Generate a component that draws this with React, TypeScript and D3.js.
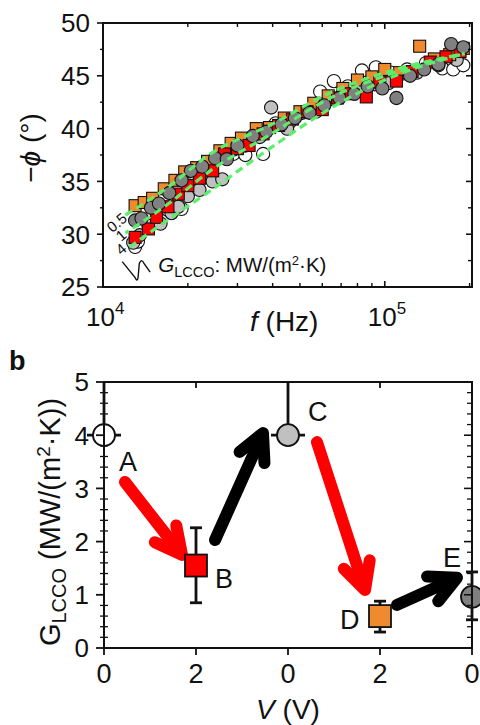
import React from "react";
import * as d3 from "d3";

// ---------- Panel a data ----------
const freqOrange = [1.3e4,1.4e4,1.5e4,1.65e4,1.8e4,1.95e4,2.15e4,2.35e4,2.6e4,2.85e4,3.1e4,3.5e4,3.9e4,4.4e4,5.0e4,5.6e4,6.3e4,7.1e4,8.0e4,9.0e4,1.0e5,1.13e5,1.33e5,1.5e5,1.7e5,1.9e5];
const phiOrange = [32.7,33.0,33.4,34.3,35.1,35.9,36.3,36.9,37.9,38.6,39.1,40.0,40.1,41.0,41.6,42.4,43.1,43.8,44.6,44.9,45.6,45.3,47.8,46.6,47.0,47.6];

const freqRed = [1.3e4,1.45e4,1.55e4,1.7e4,1.85e4,2.0e4,2.2e4,2.45e4,2.7e4,3.0e4,3.3e4,3.7e4,4.2e4,4.7e4,5.3e4,6.0e4,6.8e4,7.6e4,8.6e4,9.6e4,1.1e5,1.25e5,1.45e5,1.65e5,1.85e5];
const phiRed = [29.7,30.5,31.6,32.6,33.8,34.6,35.3,36.0,37.6,38.1,38.4,39.5,40.3,40.9,41.6,41.8,42.9,43.3,43.0,44.4,44.5,45.4,46.3,46.8,47.3];

const freqWhite = [1.3e4,1.33e4,1.5e4,1.7e4,1.9e4,2.1e4,2.35e4,2.6e4,2.9e4,3.2e4,3.7e4,4.1e4,4.6e4,5.2e4,5.9e4,6.6e4,7.4e4,8.3e4,9.3e4,1.05e5,1.2e5,1.4e5,1.6e5,1.75e5,1.9e5];
const phiWhite = [28.8,29.3,31.0,32.3,32.4,34.6,35.9,37.3,37.6,37.5,37.6,40.5,40.6,41.6,43.5,44.5,44.0,45.5,45.8,45.3,45.6,46.2,45.7,45.6,46.0];

const freqLight = [1.28e4,1.35e4,1.45e4,1.6e4,1.75e4,1.85e4,2.0e4,2.2e4,2.45e4,2.65e4,2.9e4,3.2e4,3.6e4,3.95e4,4.5e4,5.1e4,5.7e4,6.5e4,7.2e4,8.2e4,9.2e4,1.03e5,1.15e5,1.3e5,1.55e5,1.8e5];
const phiLight = [29.2,29.9,30.8,31.0,32.0,32.6,33.6,34.2,35.0,35.2,38.0,38.4,39.2,42.0,40.0,41.5,41.6,42.8,43.3,43.6,44.2,44.3,45.2,45.3,46.0,46.5];

const freqDark = [1.3e4,1.37e4,1.48e4,1.58e4,1.72e4,1.9e4,2.05e4,2.25e4,2.5e4,2.75e4,3.0e4,3.4e4,3.8e4,4.3e4,4.8e4,5.4e4,6.1e4,6.9e4,7.8e4,8.7e4,9.8e4,1.1e5,1.23e5,1.38e5,1.55e5,1.72e5,1.9e5];
const phiDark = [31.3,31.5,32.5,32.9,33.9,35.1,36.0,36.4,37.2,37.1,38.4,39.3,39.7,40.4,41.0,41.5,42.2,42.9,43.3,44.0,43.8,42.9,45.0,45.6,46.1,48.0,47.7];

// fitted curves for G = 0.5, 1, 4 MW/(m2 K)
const fitFreq = [1.2e4,1.73e4,2.4e4,3.9e4,6.4e4,1.0e5,1.92e5];
const fit05 = [31.8,34.6,37.6,40.3,43.4,45.3,47.1];
const fit1 = [30.1,33.0,36.0,39.4,42.9,45.0,47.1];
const fit4 = [28.5,31.5,34.1,38.1,41.9,44.6,47.1];
const fitLabels = ["0.5","1","4"];

const yTicksTop = [25,30,35,40,45,50];

// ---------- Panel b data ----------
const stageNames = ["A","B","C","D","E"];
const stagePos = [0,1,2,3,4];
const voltLabels = ["0","2","0","2","0"];
const gValues = [4.0,1.55,4.0,0.6,0.96];
const gLow = [4.0,0.85,4.0,0.3,0.53];
const gHigh = [5.6,2.26,5.6,0.88,1.43];
const yTicksBot = [0,1,2,3,4,5];

const FONT = "'Liberation Sans', Arial, Helvetica, sans-serif";

export default function App() {
  const xA = d3.scaleLog().domain([1e4, 2.04e5]).range([103, 472]);
  const yA = d3.scaleLinear().domain([25, 50]).range([287, 23]);
  const xB = d3.scaleLinear().domain([0, 4]).range([104, 472]);
  const yB = d3.scaleLinear().domain([0, 5]).range([648, 382]);

  const line = d3
    .line<[number, number]>()
    .x((d) => xA(d[0]))
    .y((d) => yA(d[1]))
    .curve(d3.curveMonotoneX);

  const fits = [fit05, fit1, fit4];
  const green = "#5ded6c";

  const minorY: number[] = d3.range(27.5, 50, 5);
  const decadeMinor: number[] = [];
  for (const dec of [1e4, 1e5]) {
    for (let k = 2; k <= 9; k++) {
      const v = k * dec;
      if (v < 2.04e5) decadeMinor.push(v);
    }
  }

  const circleSeries = (fs: number[], ps: number[], fill: string, key: string) =>
    fs.map((f, i) => (
      <circle key={key + i} cx={xA(f)} cy={yA(ps[i])} r={6.6} fill={fill} stroke="#111" strokeWidth={1.1} />
    ));
  const squareSeries = (fs: number[], ps: number[], fill: string, key: string) =>
    fs.map((f, i) => (
      <rect key={key + i} x={xA(f) - 6} y={yA(ps[i]) - 6} width={12} height={12} fill={fill} stroke="#111" strokeWidth={1.1} />
    ));

  const arrows = [
    { x1: 0.228, y1: 3.12, x2: 0.848, y2: 1.75, c: "#ff0000" },
    { x1: 1.207, y1: 2.03, x2: 1.728, y2: 4.04, c: "#000000" },
    { x1: 2.315, y1: 3.87, x2: 2.837, y2: 1.09, c: "#ff0000" },
    { x1: 3.185, y1: 0.81, x2: 3.837, y2: 1.32, c: "#000000" },
  ];
  const arrowEls = arrows.map((a, i) => {
    const X1 = xB(a.x1), Y1 = yB(a.y1), X2 = xB(a.x2), Y2 = yB(a.y2);
    const ang = Math.atan2(Y2 - Y1, X2 - X1);
    const L = 30, spread = (27 * Math.PI) / 180;
    const w1x = X2 - L * Math.cos(ang - spread), w1y = Y2 - L * Math.sin(ang - spread);
    const w2x = X2 - L * Math.cos(ang + spread), w2y = Y2 - L * Math.sin(ang + spread);
    return (
      <g key={"ar" + i} stroke={a.c} strokeWidth={12} strokeLinecap="round" strokeLinejoin="round" fill={a.c}>
        <line x1={X1} y1={Y1} x2={X2 - 4 * Math.cos(ang)} y2={Y2 - 4 * Math.sin(ang)} />
        <polyline fill="none" points={`${w1x},${w1y} ${X2},${Y2} ${w2x},${w2y}`} />
      </g>
    );
  });

  const stageFill = ["#ffffff", "#ff0000", "#c0c0c0", "#ef8a2e", "#808080"];
  const stageShape = ["c", "s", "c", "s", "c"];
  const labelOffset = [
    [24, 36], [19, 22], [20, -14], [-40, 13], [-29, -30],
  ];

  const minorYB = d3.range(0, 5.0001, 0.2).filter((v) => Math.abs(v - Math.round(v)) > 0.01);

  const fitLabelPos = [
    [xA(1.12e4), yA(31.1)],
    [xA(1.16e4), yA(29.9)],
    [xA(1.16e4), yA(28.6)],
  ];

  return (
    <svg
      width={480}
      height={725}
      style={{ position: "absolute", left: 0, top: 0, background: "#fff" }}
      fontFamily={FONT}
    >
      {/* ================= Panel a ================= */}
      {circleSeries(freqWhite, phiWhite, "#ffffff", "w")}
      {circleSeries(freqLight, phiLight, "#c0c0c0", "l")}
      {squareSeries(freqOrange, phiOrange, "#ef8a2e", "o")}
      {squareSeries(freqRed, phiRed, "#ff0000", "r")}
      {circleSeries(freqDark, phiDark, "#808080", "d")}

      {fits.map((fv, j) => (
        <path
          key={"fit" + j}
          d={line(fitFreq.map((f, i) => [f, fv[i]] as [number, number])) || ""}
          fill="none"
          stroke={green}
          strokeWidth={3.2}
          strokeDasharray="8,5"
          strokeDashoffset={j * 4}
        />
      ))}
      {fitLabels.map((t, j) => (
        <text
          key={"fl" + j}
          x={fitLabelPos[j][0]}
          y={fitLabelPos[j][1]}
          dy="0.35em"
          fontSize={15}
          textAnchor="middle"
          transform={`rotate(-40 ${fitLabelPos[j][0]} ${fitLabelPos[j][1]})`}
          fill="#111"
        >
          {t}
        </text>
      ))}
      <path
        d={`M${xA(1.17e4)},${yA(27.4)} L${xA(1.3e4)},${yA(25.9)} Q${xA(1.33e4)},${yA(25.3)} ${xA(1.335e4)},${yA(26.2)} L${xA(1.345e4)},${yA(27.2)} Q${xA(1.37e4)},${yA(27.8)} ${xA(1.4e4)},${yA(27.2)} L${xA(1.47e4)},${yA(26.4)}`}
        fill="none"
        stroke="#111"
        strokeWidth={1.4}
      />
      <text x={xA(1.57e4)} y={yA(26.4)} fontSize={20.5} fill="#111">
        <tspan fontStyle="italic">G</tspan>
        <tspan fontSize={14.5} dy={5}>LCCO</tspan>
        <tspan dy={-5}>: MW/(m</tspan>
        <tspan fontSize={13} dy={-7}>2</tspan>
        <tspan dy={7}>·K)</tspan>
      </text>

      <rect x={103} y={23} width={369} height={264} fill="none" stroke="#111" strokeWidth={2} />
      {yTicksTop.map((v) => (
        <g key={"yt" + v}>
          <line x1={97} x2={103} y1={yA(v)} y2={yA(v)} stroke="#111" strokeWidth={1.6} />
          <line x1={466} x2={472} y1={yA(v)} y2={yA(v)} stroke="#111" strokeWidth={1.6} />
          <text x={90} y={yA(v)} dy="0.36em" fontSize={26} textAnchor="end" fill="#111">
            {v}
          </text>
        </g>
      ))}
      {minorY.map((v) => (
        <g key={"ym" + v}>
          <line x1={100} x2={103} y1={yA(v)} y2={yA(v)} stroke="#111" strokeWidth={1.4} />
          <line x1={468} x2={472} y1={yA(v)} y2={yA(v)} stroke="#111" strokeWidth={1.4} />
        </g>
      ))}
      {decadeMinor.map((v) => (
        <g key={"xm" + v}>
          <line x1={xA(v)} x2={xA(v)} y1={23} y2={27} stroke="#111" strokeWidth={1.4} />
          <line x1={xA(v)} x2={xA(v)} y1={287} y2={283} stroke="#111" strokeWidth={1.4} />
        </g>
      ))}
      {[1e4, 1e5].map((v, i) => (
        <g key={"xM" + v}>
          <line x1={xA(v)} x2={xA(v)} y1={23} y2={29} stroke="#111" strokeWidth={1.6} />
          <line x1={xA(v)} x2={xA(v)} y1={287} y2={281} stroke="#111" strokeWidth={1.6} />
          <text x={xA(v) - 17} y={326} fontSize={26} fill="#111">
            10<tspan fontSize={17} dy={-12}>{i === 0 ? "4" : "5"}</tspan>
          </text>
        </g>
      ))}
      <text x={250} y={331} fontSize={28} fill="#111">
        <tspan fontStyle="italic">f</tspan> (Hz)
      </text>
      <text transform="translate(40,148) rotate(-90)" textAnchor="middle" fontSize={28} fill="#111">
        −<tspan fontStyle="italic">ϕ</tspan> (°)
      </text>

      {/* ================= Panel b ================= */}
      <text x={9} y={370} fontSize={27} fontWeight="bold" fill="#111">
        b
      </text>

      {arrowEls}

      {stagePos.map((p, i) => {
        const cx = xB(p);
        const cy = yB(gValues[i]);
        const top = yB(Math.min(gHigh[i], 5));
        const bot = yB(gLow[i]);
        const clippedTop = gHigh[i] > 5;
        const capW = clippedTop ? 17 : 6;
        return (
          <g key={"pt" + i}>
            <line x1={cx} x2={cx} y1={top} y2={bot} stroke="#111" strokeWidth={2.8} />
            {!clippedTop && <line x1={cx - capW} x2={cx + capW} y1={top} y2={top} stroke="#111" strokeWidth={2.8} />}
            <line x1={cx - capW} x2={cx + capW} y1={bot} y2={bot} stroke="#111" strokeWidth={2.8} />
            {stageShape[i] === "c" ? (
              <circle cx={cx} cy={cy} r={11} fill={stageFill[i]} stroke="#111" strokeWidth={1.8} />
            ) : (
              <rect x={cx - 11} y={cy - 11} width={22} height={22} fill={stageFill[i]} stroke="#111" strokeWidth={1.8} />
            )}
            <text x={cx + labelOffset[i][0]} y={cy + labelOffset[i][1]} fontSize={27} fill="#111" textAnchor={i === 0 ? "middle" : "start"}>
              {stageNames[i]}
            </text>
          </g>
        );
      })}

      <path d={`M104,382 H472 V648 H104 Z`} fill="none" stroke="#111" strokeWidth={2} />
      {yTicksBot.map((v) => (
        <g key={"ybt" + v}>
          <line x1={96} x2={104} y1={yB(v)} y2={yB(v)} stroke="#111" strokeWidth={1.8} />
          <line x1={464} x2={472} y1={yB(v)} y2={yB(v)} stroke="#111" strokeWidth={1.6} />
          <text x={89} y={yB(v)} dy="0.36em" fontSize={26} textAnchor="end" fill="#111">
            {v}
          </text>
        </g>
      ))}
      {minorYB.map((v) => (
        <g key={"ybm" + v}>
          <line x1={100} x2={108} y1={yB(v)} y2={yB(v)} stroke="#111" strokeWidth={1.3} />
          <line x1={467} x2={472} y1={yB(v)} y2={yB(v)} stroke="#111" strokeWidth={1.3} />
        </g>
      ))}
      {stagePos.map((p, i) => (
        <g key={"xbt" + i}>
          <line x1={xB(p)} x2={xB(p)} y1={648} y2={655} stroke="#111" strokeWidth={1.8} />
          <line x1={xB(p)} x2={xB(p)} y1={382} y2={388} stroke="#111" strokeWidth={1.8} />
          <text x={xB(p)} y={683} fontSize={27} textAnchor="middle" fill="#111">
            {voltLabels[i]}
          </text>
        </g>
      ))}
      <text x={288} y={719} fontSize={28} textAnchor="middle" fill="#111">
        <tspan fontStyle="italic">V</tspan> (V)
      </text>
      <text transform="translate(60,522) rotate(-90)" textAnchor="middle" fontSize={29} fill="#111">
        G
        <tspan fontSize={20} dy={6}>LCCO</tspan>
        <tspan dy={-6}> (MW/(m</tspan>
        <tspan fontSize={19} dy={-10}>2</tspan>
        <tspan dy={10}>·K))</tspan>
      </text>
    </svg>
  );
}
